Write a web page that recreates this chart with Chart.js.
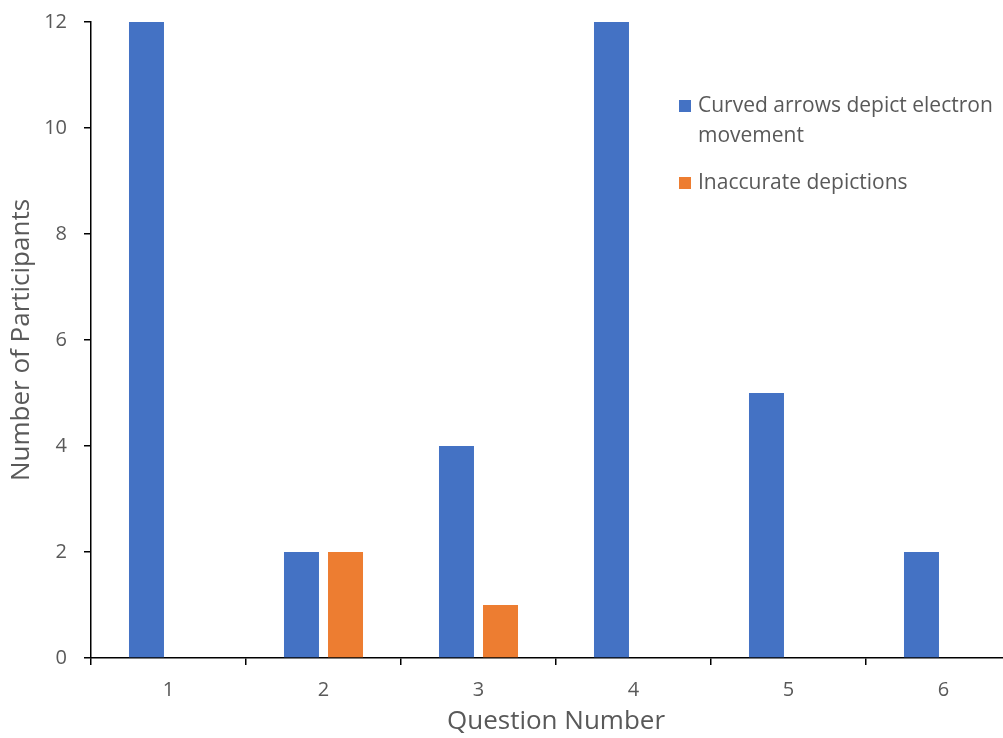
<!DOCTYPE html>
<html>
<head>
<meta charset="utf-8">
<script src="https://cdn.jsdelivr.net/npm/chart.js@4"></script>
<style>
  html, body { margin: 0; padding: 0; overflow: hidden; background: #fff; }
  #wrap { width: 1030px; height: 738px; }
</style>
</head>
<body>
<div id="wrap"><canvas id="myChart"></canvas></div>
<script>
// datos
const questions = ['1', '2', '3', '4', '5', '6'];
const curvedArrows = [12, 2, 4, 12, 5, 2];
const inaccurate = [0, 2, 1, 0, 0, 0];
const curvedLabel = ['Curved arrows depict electron', 'movement'];
const inaccurateLabel = ['Inaccurate depictions'];

const textColor = '#595959';
const fontFam = '"Open Sans", sans-serif';

// leyenda dentro del area del grafico, arriba a la derecha
const insideLegend = {
  id: 'insideLegend',
  afterDraw(chart) {
    const ctx = chart.ctx;
    const area = chart.chartArea;
    let y = area.top + 84;
    ctx.save();
    ctx.font = '21px ' + fontFam;
    ctx.textBaseline = 'middle';
    ctx.textAlign = 'left';
    chart.data.datasets.forEach((ds) => {
      const lines = ds.label;
      ctx.fillStyle = ds.backgroundColor;
      ctx.fillRect(area.left + 588, y - 6, 12, 12);
      ctx.fillStyle = textColor;
      lines.forEach((line, i) => {
        ctx.fillText(line, area.left + 607, y + i * 30);
      });
      y += lines.length * 30 + 17;
    });
    ctx.restore();
  }
};

let myChart = document.getElementById('myChart').getContext('2d');

let barChart = new Chart(myChart, {
  type: 'bar',
  data: {
    labels: questions,
    datasets: [{
      label: curvedLabel,
      data: curvedArrows,
      backgroundColor: '#4472C4',
      borderWidth: 0,
      categoryPercentage: 0.568,
      barPercentage: 0.795
    }, {
      label: inaccurateLabel,
      data: inaccurate,
      backgroundColor: '#ED7D31',
      borderWidth: 0,
      categoryPercentage: 0.568,
      barPercentage: 0.795
    }]
  },
  options: {
    responsive: true,
    maintainAspectRatio: false,
    animation: false,
    layout: { padding: { left: 0, top: 22, right: 9, bottom: 0 } },
    plugins: {
      legend: { display: false },
      tooltip: { enabled: false }
    },
    scales: {
      x: {
        grid: { drawOnChartArea: false, tickLength: 7, color: '#000', lineWidth: 1.5 },
        border: { color: '#000', width: 1.5 },
        ticks: { color: textColor, font: { family: fontFam, size: 20 }, padding: 13 },
        title: { display: true, text: 'Question Number', color: textColor,
                 font: { family: fontFam, size: 26 }, padding: { top: 0, bottom: 1 } },
        afterFit(scale) { scale.height = 80; }
      },
      y: {
        min: 0,
        max: 12,
        ticks: { stepSize: 2, color: textColor, font: { family: fontFam, size: 20 }, padding: 17 },
        grid: { drawOnChartArea: false, tickLength: 7, color: '#000', lineWidth: 1.5 },
        border: { color: '#000', width: 1.5 },
        title: { display: true, text: 'Number of Participants', color: textColor,
                 font: { family: fontFam, size: 26 }, padding: { top: 6, bottom: 0 } },
        afterFit(scale) {
          scale.width = 91;
          scale.paddingTop = 0;
          scale.paddingBottom = 0;
        }
      }
    }
  },
  plugins: [insideLegend]
});
</script>
</body>
</html>
